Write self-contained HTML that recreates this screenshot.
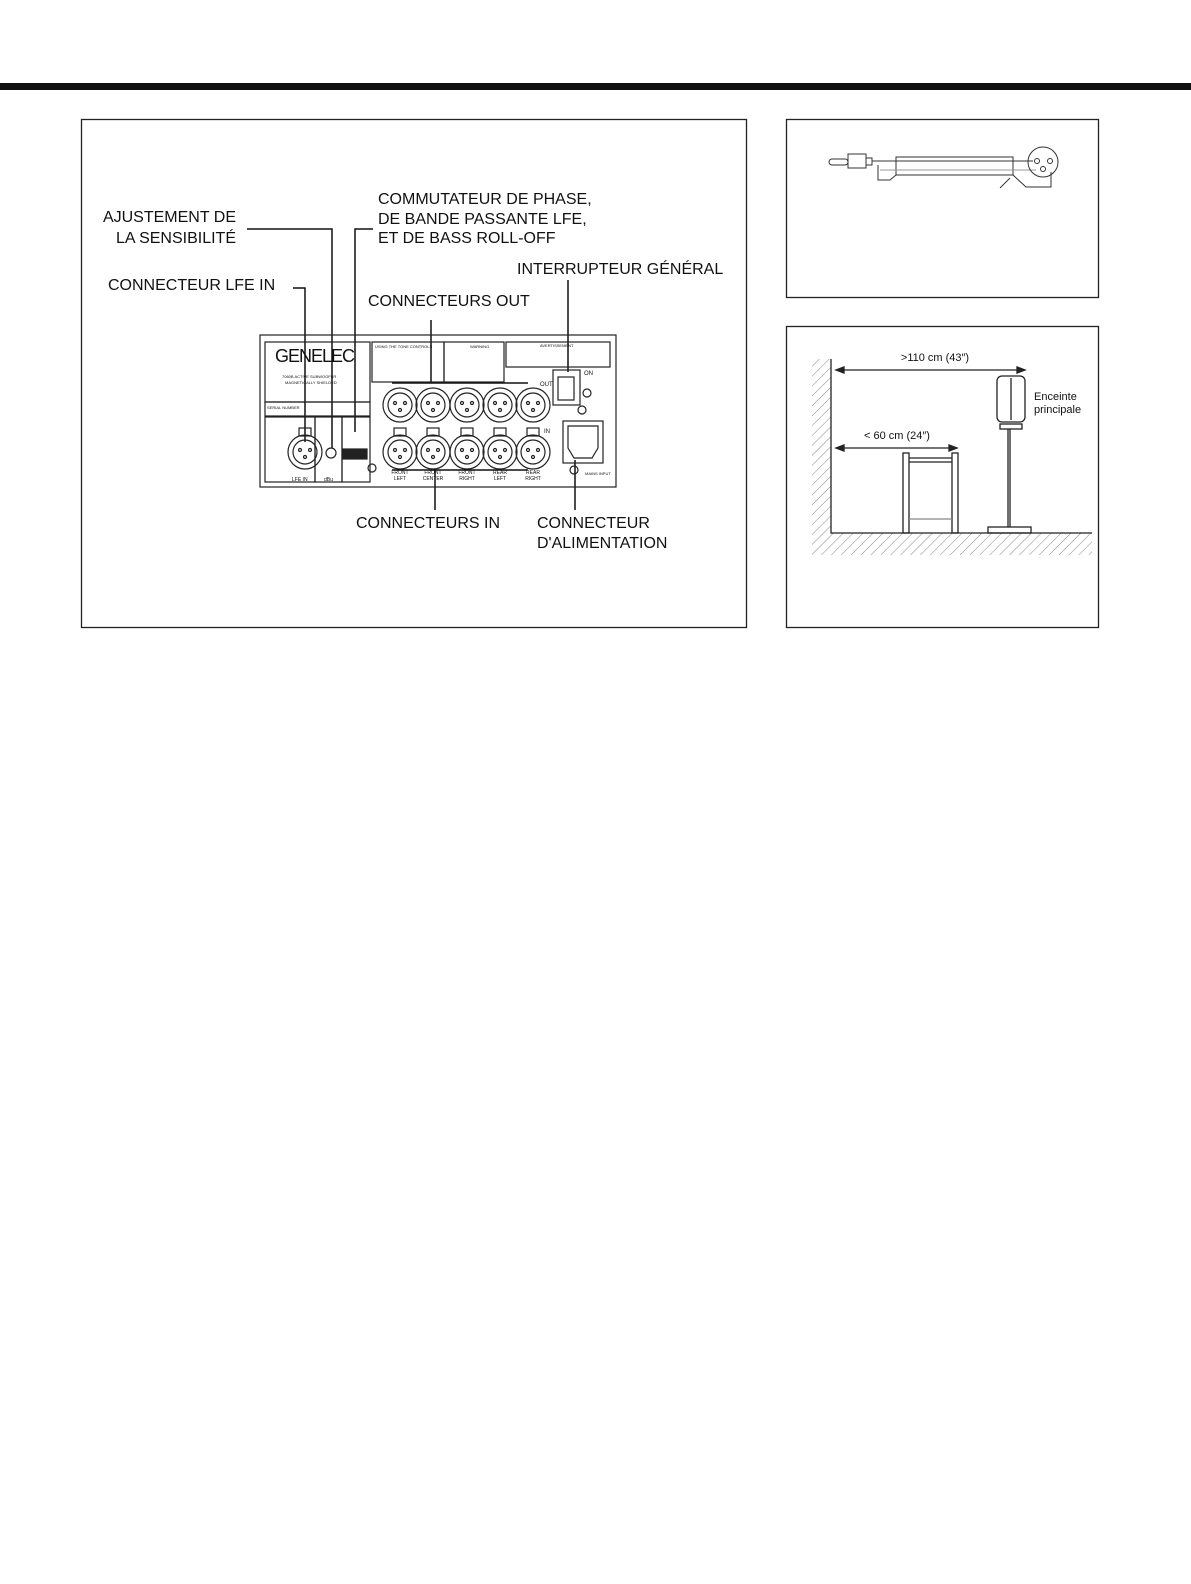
<!DOCTYPE html>
<html><head><meta charset="utf-8"><style>
html,body{margin:0;padding:0;background:#fff;overflow:hidden;width:1191px;height:1584px}
svg{display:block}
text{font-family:"Liberation Sans",Arial,sans-serif;fill:#111}
</style></head><body>
<svg width="1191" height="1584" viewBox="0 0 1191 1584" xmlns="http://www.w3.org/2000/svg">
<rect x="0" y="83" width="1191" height="7" fill="#111"/>
<rect x="81.5" y="119.5" width="665" height="508" fill="none" stroke="#222" stroke-width="1.3"/>
<rect x="786.5" y="119.5" width="312" height="178" fill="none" stroke="#222" stroke-width="1.3"/>
<rect x="786.5" y="326.5" width="312" height="301" fill="none" stroke="#222" stroke-width="1.3"/>

<g font-size="16">
<text x="378" y="204">COMMUTATEUR DE PHASE,</text>
<text x="378" y="224">DE BANDE PASSANTE LFE,</text>
<text x="378" y="243">ET DE BASS ROLL-OFF</text>
<text x="236" y="222" text-anchor="end">AJUSTEMENT DE</text>
<text x="236" y="243" text-anchor="end">LA SENSIBILITÉ</text>
<text x="108" y="290">CONNECTEUR LFE IN</text>
<text x="517" y="274">INTERRUPTEUR GÉNÉRAL</text>
<text x="368" y="306">CONNECTEURS OUT</text>
<text x="356" y="528">CONNECTEURS IN</text>
<text x="537" y="528">CONNECTEUR</text>
<text x="537" y="548">D'ALIMENTATION</text>
</g>
<g stroke="#111" stroke-width="1.5" fill="none">
<polyline points="247,229 332,229 332,448"/>
<polyline points="373,229 355,229 355,432"/>
<polyline points="293,288 305,288 305,442"/>
<line x1="431" y1="320" x2="431" y2="383"/>
<line x1="568" y1="280" x2="568" y2="372"/>
<line x1="392" y1="383" x2="528" y2="383"/>
<line x1="392" y1="470" x2="528" y2="470"/>
<line x1="435" y1="470" x2="435" y2="510"/>
<line x1="575" y1="460" x2="575" y2="510"/>
</g>

<g stroke="#222" fill="none" stroke-width="1.2">
<rect x="260" y="335" width="356" height="152"/>
<rect x="265" y="342" width="105" height="60"/>
<rect x="265" y="402" width="105" height="14"/>
<rect x="265" y="417" width="50" height="65"/>
<rect x="315" y="417" width="27" height="65"/>
<rect x="342" y="417" width="28" height="65"/>
<rect x="372" y="342" width="72" height="40"/>
<rect x="444" y="342" width="60" height="40"/>
<rect x="506" y="342" width="104" height="25"/>
<rect x="553" y="370" width="27" height="35"/>
<rect x="558" y="377" width="16" height="23"/>
<rect x="563" y="421" width="40" height="42"/>
<path d="M568 426 h30 v22 l-6 10 h-18 l-6 -10 z"/>
<circle cx="331" cy="453" r="5"/>
<rect x="343" y="449" width="24" height="10" fill="#222"/>
</g>
<text x="275" y="362" font-size="18" letter-spacing="-1">GENELEC</text>
<g font-size="4" fill="#333">
<text x="282" y="378">7060B ACTIVE SUBWOOFER</text>
<text x="285" y="384">MAGNETICALLY SHIELDED</text>
<text x="267" y="409">SERIAL NUMBER</text>
<text x="292" y="481" font-size="5">LFE IN</text>
<text x="324" y="481" font-size="5">dBu</text>
<text x="375" y="348">USING THE TONE CONTROLS</text>
<text x="470" y="348">WARNING</text>
<text x="540" y="347">AVERTISSEMENT</text>
<text x="584" y="375" font-size="6">ON</text>
<text x="540" y="386" font-size="6">OUT</text>
<text x="544" y="433" font-size="6">IN</text>
<text x="585" y="475">MAINS INPUT</text>
</g>
<g font-size="5" fill="#333" text-anchor="middle">
<text x="400" y="474">FRONT</text><text x="400" y="480">LEFT</text>
<text x="433" y="474">FRONT</text><text x="433" y="480">CENTER</text>
<text x="467" y="474">FRONT</text><text x="467" y="480">RIGHT</text>
<text x="500" y="474">REAR</text><text x="500" y="480">LEFT</text>
<text x="533" y="474">REAR</text><text x="533" y="480">RIGHT</text>
</g>
<g stroke="#222" fill="none" stroke-width="1.2">
<g id="o">
<circle cx="400" cy="405" r="17"/><circle cx="400" cy="405" r="12"/>
<circle cx="395" cy="403" r="1.5"/><circle cx="405" cy="403" r="1.5"/><circle cx="400" cy="410" r="1.5"/>
</g>
<use href="#o" x="33"/><use href="#o" x="67"/><use href="#o" x="100"/><use href="#o" x="133"/>
<g id="i">
<rect x="394" y="428" width="12" height="8"/>
<circle cx="400" cy="452" r="17"/><circle cx="400" cy="452" r="12"/>
<circle cx="395" cy="450" r="1.5"/><circle cx="405" cy="450" r="1.5"/><circle cx="400" cy="457" r="1.5"/>
</g>
<use href="#i" x="33"/><use href="#i" x="67"/><use href="#i" x="100"/><use href="#i" x="133"/>
<use href="#i" x="-95"/>
<circle cx="587" cy="393" r="4"/><circle cx="582" cy="410" r="4"/><circle cx="574" cy="470" r="4"/>
<circle cx="372" cy="468" r="4"/>
</g>

<g stroke="#333" fill="none" stroke-width="1">
<rect x="829" y="159" width="19" height="6" rx="3"/>
<rect x="848" y="154" width="18" height="14"/>
<rect x="866" y="158" width="6" height="7"/>
<rect x="896" y="157" width="117" height="18"/>
<line x1="872" y1="161" x2="1033" y2="161"/>
<line x1="880" y1="170" x2="1036" y2="170" stroke="#999"/>
<polyline points="878,165 878,180 890,180 896,175"/>
<polyline points="1013,175 1026,187 1051,187 1051,172"/>
<line x1="1000" y1="188" x2="1010" y2="178"/>
<circle cx="1043" cy="162" r="15"/>
<circle cx="1037" cy="161" r="2.5"/><circle cx="1050" cy="161" r="2.5"/><circle cx="1043" cy="169" r="2.5"/>
</g>

<defs><pattern id="h" width="7" height="7" patternUnits="userSpaceOnUse" patternTransform="rotate(45)">
<line x1="0" y1="0" x2="0" y2="7" stroke="#888" stroke-width="1"/></pattern></defs>
<rect x="812" y="359" width="19" height="174" fill="url(#h)"/>
<rect x="812" y="533" width="280" height="22" fill="url(#h)"/>
<g stroke="#222" stroke-width="1.3" fill="none">
<polyline points="831,359 831,533 1092,533"/>
<line x1="840" y1="370" x2="1020" y2="370"/><path d="M836 370 l8 -3 v6 z M1025 370 l-8 -3 v6 z" fill="#222"/>
<line x1="840" y1="448" x2="952" y2="448"/><path d="M836 448 l8 -3 v6 z M957 448 l-8 -3 v6 z" fill="#222"/>
<rect x="903" y="453" width="6" height="80"/><rect x="952" y="453" width="6" height="80"/>
<line x1="909" y1="458" x2="952" y2="458"/><line x1="909" y1="462" x2="952" y2="462"/>
<line x1="909" y1="519" x2="952" y2="519" stroke="#888"/>
<rect x="997" y="376" width="28" height="46" rx="5"/>
<line x1="1011" y1="378" x2="1011" y2="420"/>
<rect x="1000" y="424" width="22" height="5"/>
<line x1="1008" y1="429" x2="1008" y2="527"/><line x1="1010" y1="429" x2="1010" y2="527"/>
<rect x="988" y="527" width="43" height="6"/>
</g>
<text x="935" y="361" font-size="11" text-anchor="middle">&gt;110 cm (43″)</text>
<text x="897" y="439" font-size="11" text-anchor="middle">&lt; 60 cm (24″)</text>
<text x="1034" y="400" font-size="11">Enceinte</text>
<text x="1034" y="413" font-size="11">principale</text>
</svg>
</body></html>
